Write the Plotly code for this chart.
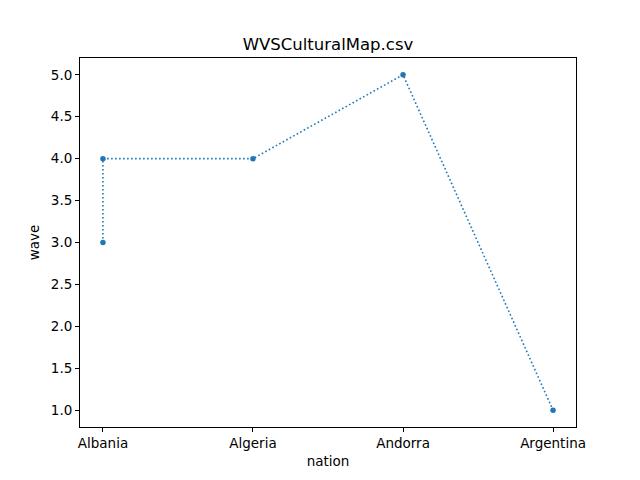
import plotly.graph_objects as go

# data
nation = ["Albania", "Albania", "Algeria", "Andorra", "Argentina"]
wave = [3.0, 4.0, 4.0, 5.0, 1.0]
y_ticks = [1.0, 1.5, 2.0, 2.5, 3.0, 3.5, 4.0, 4.5, 5.0]

blue = "#1f77b4"

fig = go.Figure()
fig.add_trace(go.Scatter(
    x=nation, y=wave,
    mode="lines+markers",
    line=dict(color=blue, width=1.6, dash="1.6px,2.4px"),
    marker=dict(color=blue, size=5.5),
    showlegend=False,
))

axis_common = dict(
    showline=True, linecolor="black", linewidth=1, mirror=True,
    ticks="outside", ticklen=4, tickcolor="black",
    showgrid=False, zeroline=False,
    tickfont=dict(size=13.5, color="black"),
)

# page body adds an 8px offset, margins compensate for it
fig.update_layout(
    width=640, height=480,
    margin=dict(l=72, r=72, t=50, b=61),
    paper_bgcolor="white", plot_bgcolor="white",
    font=dict(family="DejaVu Sans", color="black"),
    title=dict(text="WVSCulturalMap.csv", x=0.5, xanchor="center",
               y=0.913, yanchor="bottom", font=dict(size=16.5)),
    xaxis=dict(type="category", range=[-0.153, 3.153],
               title=dict(text="nation", font=dict(size=13.5), standoff=6),
               **axis_common),
    yaxis=dict(range=[0.8, 5.2], tickvals=y_ticks,
               ticktext=[f"{v:.1f}" for v in y_ticks],
               title=dict(text="wave", font=dict(size=13.5), standoff=8),
               **axis_common),
)

fig.write_html("out.html")
